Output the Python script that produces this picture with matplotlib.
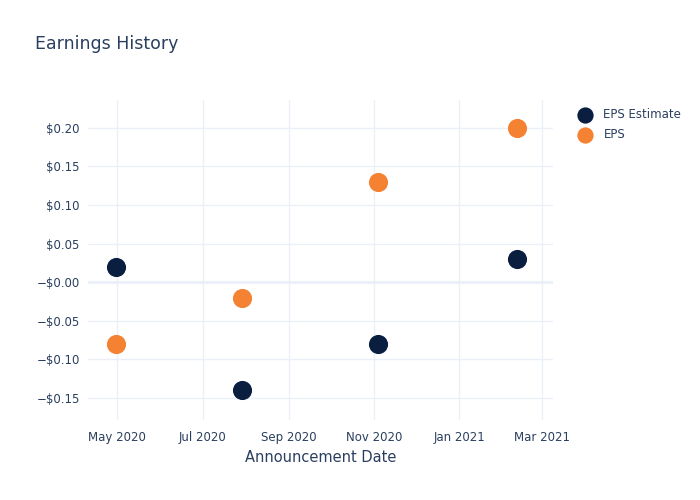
import matplotlib
matplotlib.use("Agg")
import matplotlib.pyplot as plt
import matplotlib.dates as mdates
from datetime import datetime

dates = ["2020-04-30", "2020-07-29", "2020-11-04", "2021-02-11"]
eps_estimate = [0.02, -0.14, -0.08, 0.03]
eps_actual = [-0.08, -0.02, 0.13, 0.20]

y_ticks = [-0.15, -0.10, -0.05, 0.0, 0.05, 0.10, 0.15, 0.20]
y_labels = ["\u2212$0.15", "\u2212$0.10", "\u2212$0.05", "\u2212$0.00",
            "$0.05", "$0.10", "$0.15", "$0.20"]
x_ticks = ["2020-05-01", "2020-07-01", "2020-09-01", "2020-11-01", "2021-01-01", "2021-03-01"]
x_labels = ["May 2020", "Jul 2020", "Sep 2020", "Nov 2020", "Jan 2021", "Mar 2021"]

FONT = "#2a3f5f"
GRID = "#ebf0f8"
NAVY = "#0a1f40"
ORANGE = "#f58233"

to_dt = lambda s: datetime.strptime(s, "%Y-%m-%d")
x = [to_dt(d) for d in dates]

fig = plt.figure(figsize=(7, 5), dpi=100)
ax = fig.add_axes([88 / 700, 1 - 420 / 500, (553 - 88) / 700, 320 / 500])

ax.scatter(x, eps_estimate, s=190, color=NAVY, label="EPS Estimate", zorder=3, linewidths=0)
ax.scatter(x, eps_actual, s=190, color=ORANGE, label="EPS", zorder=3, linewidths=0)

ax.set_xlim(to_dt("2020-04-10"), to_dt("2021-03-09"))
ax.set_ylim(-0.1785, 0.236)

ax.set_yticks(y_ticks)
ax.set_yticklabels(y_labels)
ax.set_xticks([mdates.date2num(to_dt(t)) for t in x_ticks])
ax.set_xticklabels(x_labels)

ax.grid(True, color=GRID, linewidth=1, zorder=0)
ax.axhline(0, color=GRID, linewidth=2, zorder=1)
for s in ax.spines.values():
    s.set_visible(False)
ax.tick_params(length=0, labelsize=8.5, labelcolor=FONT, pad=6)
ax.tick_params(axis="x", pad=8)

ax.set_xlabel("Announcement Date", fontsize=10.5, color=FONT, labelpad=4)

fig.text(35 / 700, 1 - 44 / 500, "Earnings History", fontsize=12.5, color=FONT, va="center")

leg = fig.legend(loc="upper left", bbox_to_anchor=(568 / 700, 1 - 103 / 500), frameon=False,
                 fontsize=8.5, labelcolor=FONT, handletextpad=0.6, borderaxespad=0,
                 labelspacing=0.62, markerscale=0.85)

fig.savefig("out.png", facecolor="white")
